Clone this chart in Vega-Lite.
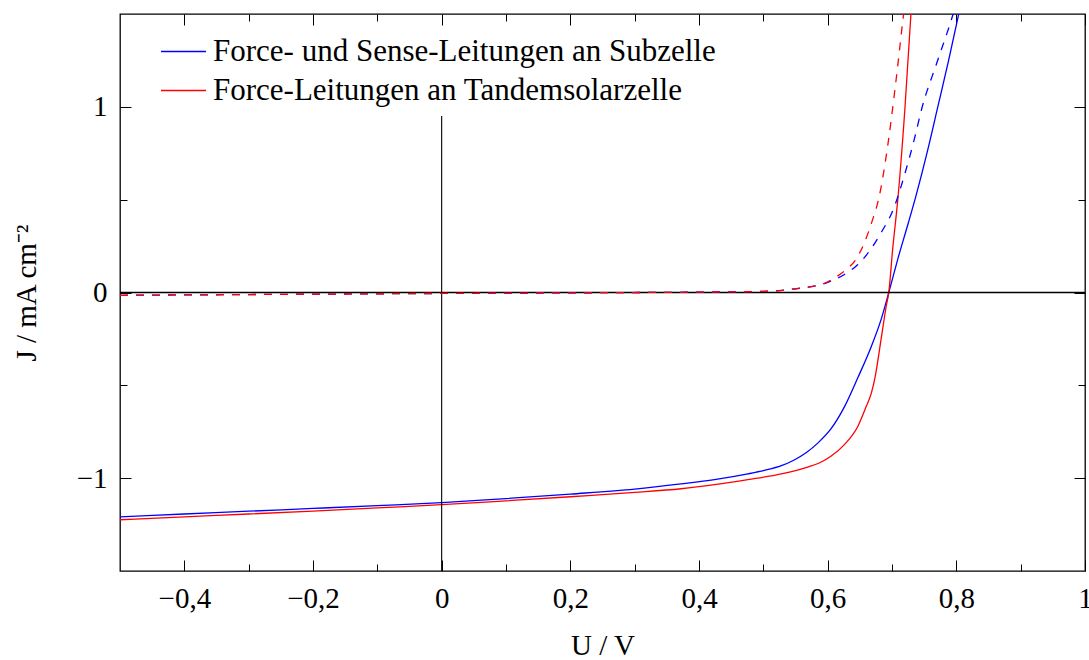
{
  "$schema": "https://vega.github.io/schema/vega-lite/v6.json",
  "width": 965,
  "height": 557,
  "autosize": "none",
  "padding": {"left": 120, "top": 14, "right": 4, "bottom": 89},
  "background": "white",
  "config": {
    "view": {"stroke": "black", "strokeWidth": 1.3},
    "axis": {
      "domain": false,
      "grid": false,
      "tickColor": "black",
      "tickWidth": 1,
      "labelFont": "Liberation Serif",
      "labelFontSize": 29,
      "labelColor": "black",
      "titleFont": "Liberation Serif",
      "titleFontSize": 29,
      "titleFontWeight": "normal",
      "titleColor": "black",
      "labelFlush": false,
      "labelOverlap": false
    },
    "legend": {
      "orient": "none",
      "legendX": 40,
      "legendY": 14,
      "symbolType": "stroke",
      "symbolSize": 2025,
      "symbolStrokeWidth": 1.3,
      "labelFont": "Liberation Serif",
      "labelFontSize": 31,
      "labelColor": "black",
      "labelLimit": 0,
      "labelOffset": 6,
      "rowPadding": -1,
      "padding": 0
    }
  },
  "datasets": {
    "kennlinien": [
      {"U": -0.5, "J": -1.208, "Messung": "Force- und Sense-Leitungen an Subzelle", "Beleuchtung": "hell"},
      {"U": -0.4, "J": -1.193, "Messung": "Force- und Sense-Leitungen an Subzelle", "Beleuchtung": "hell"},
      {"U": -0.3, "J": -1.178, "Messung": "Force- und Sense-Leitungen an Subzelle", "Beleuchtung": "hell"},
      {"U": -0.2, "J": -1.163, "Messung": "Force- und Sense-Leitungen an Subzelle", "Beleuchtung": "hell"},
      {"U": -0.1, "J": -1.148, "Messung": "Force- und Sense-Leitungen an Subzelle", "Beleuchtung": "hell"},
      {"U": 0.0, "J": -1.132, "Messung": "Force- und Sense-Leitungen an Subzelle", "Beleuchtung": "hell"},
      {"U": 0.1, "J": -1.11, "Messung": "Force- und Sense-Leitungen an Subzelle", "Beleuchtung": "hell"},
      {"U": 0.2, "J": -1.086, "Messung": "Force- und Sense-Leitungen an Subzelle", "Beleuchtung": "hell"},
      {"U": 0.3, "J": -1.059, "Messung": "Force- und Sense-Leitungen an Subzelle", "Beleuchtung": "hell"},
      {"U": 0.372, "J": -1.031, "Messung": "Force- und Sense-Leitungen an Subzelle", "Beleuchtung": "hell"},
      {"U": 0.424, "J": -1.008, "Messung": "Force- und Sense-Leitungen an Subzelle", "Beleuchtung": "hell"},
      {"U": 0.476, "J": -0.977, "Messung": "Force- und Sense-Leitungen an Subzelle", "Beleuchtung": "hell"},
      {"U": 0.502, "J": -0.958, "Messung": "Force- und Sense-Leitungen an Subzelle", "Beleuchtung": "hell"},
      {"U": 0.528, "J": -0.933, "Messung": "Force- und Sense-Leitungen an Subzelle", "Beleuchtung": "hell"},
      {"U": 0.548, "J": -0.902, "Messung": "Force- und Sense-Leitungen an Subzelle", "Beleuchtung": "hell"},
      {"U": 0.567, "J": -0.862, "Messung": "Force- und Sense-Leitungen an Subzelle", "Beleuchtung": "hell"},
      {"U": 0.585, "J": -0.81, "Messung": "Force- und Sense-Leitungen an Subzelle", "Beleuchtung": "hell"},
      {"U": 0.605, "J": -0.735, "Messung": "Force- und Sense-Leitungen an Subzelle", "Beleuchtung": "hell"},
      {"U": 0.626, "J": -0.616, "Messung": "Force- und Sense-Leitungen an Subzelle", "Beleuchtung": "hell"},
      {"U": 0.647, "J": -0.458, "Messung": "Force- und Sense-Leitungen an Subzelle", "Beleuchtung": "hell"},
      {"U": 0.668, "J": -0.289, "Messung": "Force- und Sense-Leitungen an Subzelle", "Beleuchtung": "hell"},
      {"U": 0.683, "J": -0.146, "Messung": "Force- und Sense-Leitungen an Subzelle", "Beleuchtung": "hell"},
      {"U": 0.695, "J": 0.0, "Messung": "Force- und Sense-Leitungen an Subzelle", "Beleuchtung": "hell"},
      {"U": 0.709, "J": 0.18, "Messung": "Force- und Sense-Leitungen an Subzelle", "Beleuchtung": "hell"},
      {"U": 0.725, "J": 0.37, "Messung": "Force- und Sense-Leitungen an Subzelle", "Beleuchtung": "hell"},
      {"U": 0.738, "J": 0.53, "Messung": "Force- und Sense-Leitungen an Subzelle", "Beleuchtung": "hell"},
      {"U": 0.755, "J": 0.76, "Messung": "Force- und Sense-Leitungen an Subzelle", "Beleuchtung": "hell"},
      {"U": 0.771, "J": 0.997, "Messung": "Force- und Sense-Leitungen an Subzelle", "Beleuchtung": "hell"},
      {"U": 0.788, "J": 1.25, "Messung": "Force- und Sense-Leitungen an Subzelle", "Beleuchtung": "hell"},
      {"U": 0.805, "J": 1.52, "Messung": "Force- und Sense-Leitungen an Subzelle", "Beleuchtung": "hell"},

      {"U": -0.5, "J": -1.224, "Messung": "Force-Leitungen an Tandemsolarzelle", "Beleuchtung": "hell"},
      {"U": -0.4, "J": -1.208, "Messung": "Force-Leitungen an Tandemsolarzelle", "Beleuchtung": "hell"},
      {"U": -0.3, "J": -1.193, "Messung": "Force-Leitungen an Tandemsolarzelle", "Beleuchtung": "hell"},
      {"U": -0.2, "J": -1.177, "Messung": "Force-Leitungen an Tandemsolarzelle", "Beleuchtung": "hell"},
      {"U": -0.1, "J": -1.16, "Messung": "Force-Leitungen an Tandemsolarzelle", "Beleuchtung": "hell"},
      {"U": 0.0, "J": -1.143, "Messung": "Force-Leitungen an Tandemsolarzelle", "Beleuchtung": "hell"},
      {"U": 0.1, "J": -1.122, "Messung": "Force-Leitungen an Tandemsolarzelle", "Beleuchtung": "hell"},
      {"U": 0.2, "J": -1.1, "Messung": "Force-Leitungen an Tandemsolarzelle", "Beleuchtung": "hell"},
      {"U": 0.3, "J": -1.077, "Messung": "Force-Leitungen an Tandemsolarzelle", "Beleuchtung": "hell"},
      {"U": 0.372, "J": -1.057, "Messung": "Force-Leitungen an Tandemsolarzelle", "Beleuchtung": "hell"},
      {"U": 0.424, "J": -1.035, "Messung": "Force-Leitungen an Tandemsolarzelle", "Beleuchtung": "hell"},
      {"U": 0.476, "J": -1.008, "Messung": "Force-Leitungen an Tandemsolarzelle", "Beleuchtung": "hell"},
      {"U": 0.528, "J": -0.977, "Messung": "Force-Leitungen an Tandemsolarzelle", "Beleuchtung": "hell"},
      {"U": 0.569, "J": -0.94, "Messung": "Force-Leitungen an Tandemsolarzelle", "Beleuchtung": "hell"},
      {"U": 0.59, "J": -0.913, "Messung": "Force-Leitungen an Tandemsolarzelle", "Beleuchtung": "hell"},
      {"U": 0.605, "J": -0.882, "Messung": "Force-Leitungen an Tandemsolarzelle", "Beleuchtung": "hell"},
      {"U": 0.626, "J": -0.819, "Messung": "Force-Leitungen an Tandemsolarzelle", "Beleuchtung": "hell"},
      {"U": 0.647, "J": -0.72, "Messung": "Force-Leitungen an Tandemsolarzelle", "Beleuchtung": "hell"},
      {"U": 0.66, "J": -0.613, "Messung": "Force-Leitungen an Tandemsolarzelle", "Beleuchtung": "hell"},
      {"U": 0.668, "J": -0.541, "Messung": "Force-Leitungen an Tandemsolarzelle", "Beleuchtung": "hell"},
      {"U": 0.674, "J": -0.45, "Messung": "Force-Leitungen an Tandemsolarzelle", "Beleuchtung": "hell"},
      {"U": 0.683, "J": -0.253, "Messung": "Force-Leitungen an Tandemsolarzelle", "Beleuchtung": "hell"},
      {"U": 0.691, "J": -0.074, "Messung": "Force-Leitungen an Tandemsolarzelle", "Beleuchtung": "hell"},
      {"U": 0.695, "J": 0.0, "Messung": "Force-Leitungen an Tandemsolarzelle", "Beleuchtung": "hell"},
      {"U": 0.701, "J": 0.232, "Messung": "Force-Leitungen an Tandemsolarzelle", "Beleuchtung": "hell"},
      {"U": 0.709, "J": 0.5, "Messung": "Force-Leitungen an Tandemsolarzelle", "Beleuchtung": "hell"},
      {"U": 0.72, "J": 0.987, "Messung": "Force-Leitungen an Tandemsolarzelle", "Beleuchtung": "hell"},
      {"U": 0.73, "J": 1.53, "Messung": "Force-Leitungen an Tandemsolarzelle", "Beleuchtung": "hell"},

      {"U": -0.5, "J": -0.015, "Messung": "Force- und Sense-Leitungen an Subzelle", "Beleuchtung": "dunkel"},
      {"U": -0.25, "J": -0.01, "Messung": "Force- und Sense-Leitungen an Subzelle", "Beleuchtung": "dunkel"},
      {"U": 0.0, "J": -0.005, "Messung": "Force- und Sense-Leitungen an Subzelle", "Beleuchtung": "dunkel"},
      {"U": 0.25, "J": -0.001, "Messung": "Force- und Sense-Leitungen an Subzelle", "Beleuchtung": "dunkel"},
      {"U": 0.4, "J": 0.002, "Messung": "Force- und Sense-Leitungen an Subzelle", "Beleuchtung": "dunkel"},
      {"U": 0.5, "J": 0.006, "Messung": "Force- und Sense-Leitungen an Subzelle", "Beleuchtung": "dunkel"},
      {"U": 0.55, "J": 0.02, "Messung": "Force- und Sense-Leitungen an Subzelle", "Beleuchtung": "dunkel"},
      {"U": 0.575, "J": 0.032, "Messung": "Force- und Sense-Leitungen an Subzelle", "Beleuchtung": "dunkel"},
      {"U": 0.59, "J": 0.043, "Messung": "Force- und Sense-Leitungen an Subzelle", "Beleuchtung": "dunkel"},
      {"U": 0.605, "J": 0.061, "Messung": "Force- und Sense-Leitungen an Subzelle", "Beleuchtung": "dunkel"},
      {"U": 0.626, "J": 0.097, "Messung": "Force- und Sense-Leitungen an Subzelle", "Beleuchtung": "dunkel"},
      {"U": 0.647, "J": 0.151, "Messung": "Force- und Sense-Leitungen an Subzelle", "Beleuchtung": "dunkel"},
      {"U": 0.665, "J": 0.223, "Messung": "Force- und Sense-Leitungen an Subzelle", "Beleuchtung": "dunkel"},
      {"U": 0.683, "J": 0.322, "Messung": "Force- und Sense-Leitungen an Subzelle", "Beleuchtung": "dunkel"},
      {"U": 0.702, "J": 0.447, "Messung": "Force- und Sense-Leitungen an Subzelle", "Beleuchtung": "dunkel"},
      {"U": 0.72, "J": 0.64, "Messung": "Force- und Sense-Leitungen an Subzelle", "Beleuchtung": "dunkel"},
      {"U": 0.735, "J": 0.83, "Messung": "Force- und Sense-Leitungen an Subzelle", "Beleuchtung": "dunkel"},
      {"U": 0.746, "J": 0.987, "Messung": "Force- und Sense-Leitungen an Subzelle", "Beleuchtung": "dunkel"},
      {"U": 0.77, "J": 1.24, "Messung": "Force- und Sense-Leitungen an Subzelle", "Beleuchtung": "dunkel"},
      {"U": 0.795, "J": 1.5, "Messung": "Force- und Sense-Leitungen an Subzelle", "Beleuchtung": "dunkel"},
      {"U": 0.8, "J": 1.56, "Messung": "Force- und Sense-Leitungen an Subzelle", "Beleuchtung": "dunkel"},

      {"U": -0.5, "J": -0.015, "Messung": "Force-Leitungen an Tandemsolarzelle", "Beleuchtung": "dunkel"},
      {"U": -0.25, "J": -0.01, "Messung": "Force-Leitungen an Tandemsolarzelle", "Beleuchtung": "dunkel"},
      {"U": 0.0, "J": -0.005, "Messung": "Force-Leitungen an Tandemsolarzelle", "Beleuchtung": "dunkel"},
      {"U": 0.25, "J": -0.001, "Messung": "Force-Leitungen an Tandemsolarzelle", "Beleuchtung": "dunkel"},
      {"U": 0.4, "J": 0.002, "Messung": "Force-Leitungen an Tandemsolarzelle", "Beleuchtung": "dunkel"},
      {"U": 0.5, "J": 0.006, "Messung": "Force-Leitungen an Tandemsolarzelle", "Beleuchtung": "dunkel"},
      {"U": 0.55, "J": 0.02, "Messung": "Force-Leitungen an Tandemsolarzelle", "Beleuchtung": "dunkel"},
      {"U": 0.575, "J": 0.032, "Messung": "Force-Leitungen an Tandemsolarzelle", "Beleuchtung": "dunkel"},
      {"U": 0.59, "J": 0.043, "Messung": "Force-Leitungen an Tandemsolarzelle", "Beleuchtung": "dunkel"},
      {"U": 0.611, "J": 0.079, "Messung": "Force-Leitungen an Tandemsolarzelle", "Beleuchtung": "dunkel"},
      {"U": 0.629, "J": 0.124, "Messung": "Force-Leitungen an Tandemsolarzelle", "Beleuchtung": "dunkel"},
      {"U": 0.644, "J": 0.178, "Messung": "Force-Leitungen an Tandemsolarzelle", "Beleuchtung": "dunkel"},
      {"U": 0.657, "J": 0.268, "Messung": "Force-Leitungen an Tandemsolarzelle", "Beleuchtung": "dunkel"},
      {"U": 0.67, "J": 0.394, "Messung": "Force-Leitungen an Tandemsolarzelle", "Beleuchtung": "dunkel"},
      {"U": 0.679, "J": 0.5, "Messung": "Force-Leitungen an Tandemsolarzelle", "Beleuchtung": "dunkel"},
      {"U": 0.694, "J": 0.807, "Messung": "Force-Leitungen an Tandemsolarzelle", "Beleuchtung": "dunkel"},
      {"U": 0.704, "J": 1.077, "Messung": "Force-Leitungen an Tandemsolarzelle", "Beleuchtung": "dunkel"},
      {"U": 0.717, "J": 1.47, "Messung": "Force-Leitungen an Tandemsolarzelle", "Beleuchtung": "dunkel"},
      {"U": 0.72, "J": 1.56, "Messung": "Force-Leitungen an Tandemsolarzelle", "Beleuchtung": "dunkel"}
    ],
    "nulllinie": [
      {"U": -0.5, "J": 0},
      {"U": 1.0, "J": 0}
    ],
    "spannungsachse": [
      {"U": 0, "J": -1.5, "J2": 0.95}
    ]
  },
  "resolve": {"axis": {"x": "independent", "y": "independent"}},
  "layer": [
    {
      "data": {"name": "kennlinien"},
      "transform": [{"filter": "datum.Beleuchtung == 'hell'"}],
      "mark": {"type": "line", "clip": true, "strokeWidth": 1.3, "interpolate": "monotone"},
      "encoding": {
        "x": {
          "field": "U", "type": "quantitative",
          "scale": {"domain": [-0.5, 1.0], "nice": false, "zero": false},
          "axis": {
            "orient": "bottom",
            "values": [-0.4, -0.2, 0, 0.2, 0.4, 0.6, 0.8, 1.0],
            "tickSize": -11,
            "labelPadding": 24,
            "labelExpr": "datum.value == 0 ? '0' : datum.value == 1 ? '1' : replace(format(datum.value, '.1f'), '.', ',')",
            "title": "U / V",
            "titlePadding": 18
          }
        },
        "y": {
          "field": "J", "type": "quantitative",
          "scale": {"domain": [-1.5, 1.5], "nice": false, "zero": false},
          "axis": {
            "orient": "left",
            "values": [-1, 0, 1],
            "tickSize": -11,
            "labelPadding": 24,
            "format": "d",
            "title": "J / mA cm⁻²",
            "titlePadding": 35
          }
        },
        "color": {
          "field": "Messung", "type": "nominal",
          "scale": {
            "domain": ["Force- und Sense-Leitungen an Subzelle", "Force-Leitungen an Tandemsolarzelle"],
            "range": ["#0000ff", "#ff0000"]
          },
          "legend": {"title": null}
        }
      }
    },
    {
      "data": {"name": "nulllinie"},
      "mark": {"type": "line", "color": "black", "strokeWidth": 1.3},
      "encoding": {
        "x": {
          "field": "U", "type": "quantitative",
          "axis": {"orient": "bottom", "values": [-0.3, -0.1, 0.1, 0.3, 0.5, 0.7, 0.9], "tickSize": -7, "labels": false, "title": null}
        },
        "y": {
          "field": "J", "type": "quantitative",
          "axis": {"orient": "left", "values": [-0.5, 0.5], "tickSize": -7, "labels": false, "title": null}
        }
      }
    },
    {
      "data": {"name": "spannungsachse"},
      "mark": {"type": "rule", "color": "black", "strokeWidth": 1.1},
      "encoding": {
        "x": {
          "field": "U", "type": "quantitative",
          "axis": {"orient": "top", "values": [-0.4, -0.2, 0, 0.2, 0.4, 0.6, 0.8, 1.0], "tickSize": -11, "labels": false, "title": null}
        },
        "y": {
          "field": "J", "type": "quantitative",
          "axis": {"orient": "right", "values": [-1, 0, 1], "tickSize": -11, "labels": false, "title": null}
        },
        "y2": {"field": "J2"}
      }
    },
    {
      "data": {"name": "kennlinien"},
      "transform": [{"filter": "datum.Beleuchtung == 'dunkel'"}],
      "mark": {"type": "line", "clip": true, "strokeWidth": 1.3, "strokeDash": [8, 8], "interpolate": "monotone"},
      "encoding": {
        "x": {
          "field": "U", "type": "quantitative",
          "axis": {"orient": "top", "values": [-0.3, -0.1, 0.1, 0.3, 0.5, 0.7, 0.9], "tickSize": -7, "labels": false, "title": null}
        },
        "y": {
          "field": "J", "type": "quantitative",
          "axis": {"orient": "right", "values": [-0.5, 0.5], "tickSize": -7, "labels": false, "title": null}
        },
        "color": {"field": "Messung", "type": "nominal", "legend": {"title": null}}
      }
    }
  ]
}
